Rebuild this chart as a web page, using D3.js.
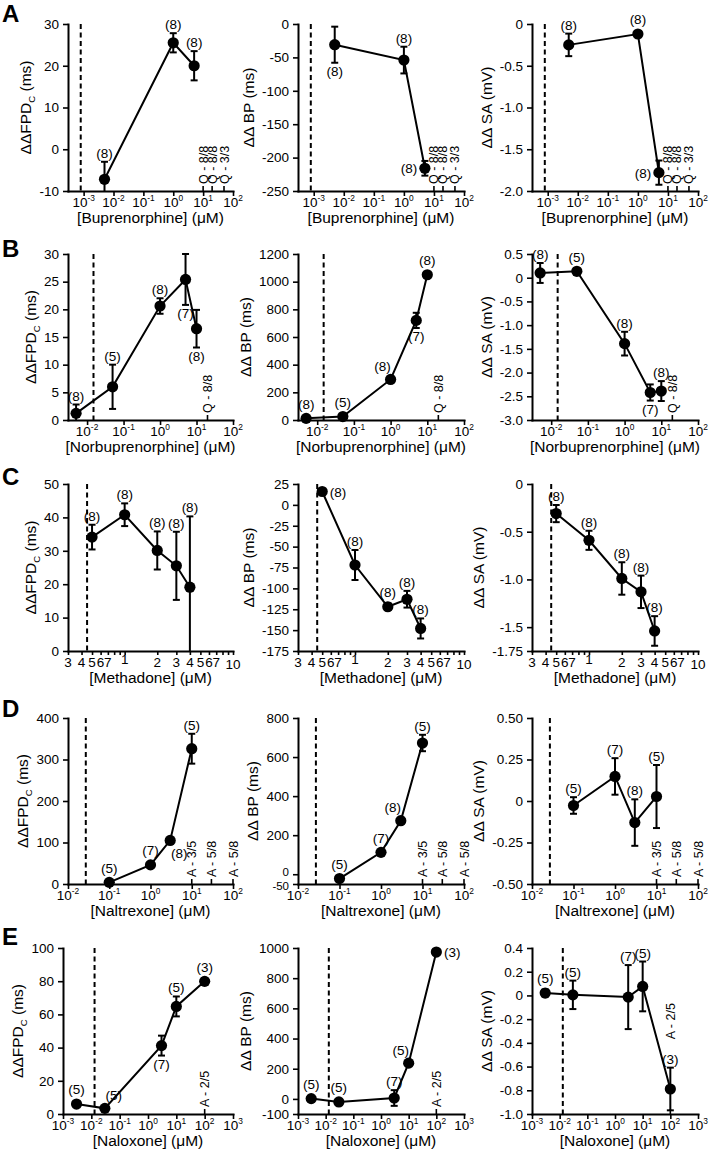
<!DOCTYPE html>
<html><head><meta charset="utf-8">
<script src="https://cdn.jsdelivr.net/npm/d3@7"></script>
<style>body{margin:0;background:#fff}svg{display:block}</style>
</head><body>
<svg id="c" width="714" height="1155"></svg>
<script>
// ---------------- DATA ----------------
const rowLetters = ['A','B','C','D','E'];
const drugs = ['Buprenorphine','Norbuprenorphine','Methadone','Naltrexone','Naloxone'];

// Row A: Buprenorphine
const concA = [0.005, 1, 5];
const fpdA = [-7.2, 25.5, 20.0], fpdErrA = [4.2, 2.3, 3.5], fpdNA = [8, 8, 8];
const bpA = [-31, -54, -216], bpErrA = [27, 20, 11], bpNA = [8, 8, 8];
const saA = [-0.25, -0.12, -1.78], saErrA = [0.135, 0.03, 0.145], saNA = [8, 8, 8];
const annotXA = [10, 20, 50], annotTextA = ['Q - 8/8', 'Q - 8/8', 'Q - 3/3'];
const dashA = 0.0008;

// Row B: Norbuprenorphine
const concB = [0.005, 0.05, 1, 5, 10];
const fpdB = [1.2, 6.0, 20.6, 25.4, 16.5], fpdErrB = [1.6, 4.0, 1.4, 4.6, 3.4], fpdNB = [8, 5, 8, 7, 8];
const bpB = [12, 25, 293, 720, 1050], bpErrB = [10, 15, 20, 55, 20], bpNB = [8, 5, 8, 7, 8];
const saB = [0.10, 0.135, -1.39, -2.42, -2.39], saErrB = [0.21, 0.03, 0.25, 0.17, 0.21], saNB = [8, 5, 8, 7, 8];
const annotXB = [20], annotTextB = ['Q - 8/8'];
const dashB = 0.015;

// Row C: Methadone
const concC = [0.5, 1, 2, 3, 4];
const fpdC = [34.1, 40.8, 30.1, 25.5, 19.1], fpdErrC = [3.7, 3.4, 5.7, 10.2, 21.2], fpdNC = [8, 8, 8, 8, 8];
const bpC = [16, -72, -122, -113, -148], bpErrC = [3, 18, 4, 10, 12], bpNC = [8, 8, 8, 8, 8];
const saC = [-0.31, -0.59, -0.99, -1.13, -1.54], saErrC = [0.09, 0.10, 0.17, 0.17, 0.155], saNC = [8, 8, 8, 8, 8];
const annotXC = [], annotTextC = [];
const dashC = 0.45;

// Row D: Naltrexone
const concD = [0.1, 1, 3, 10];
const fpdD = [4, 46, 105, 326], fpdErrD = [3, 5, 6, 36], fpdND = [5, 7, 8, 5];
const bpD = [-22, 112, 274, 672], bpErrD = [8, 10, 12, 42], bpND = [5, 7, 8, 5];
const saD = [-0.027, 0.148, -0.13, 0.027], saErrD = [0.05, 0.11, 0.14, 0.19], saND = [5, 7, 8, 5];
const annotXD = [10, 30, 100], annotTextD = ['A - 3/5', 'A - 5/8', 'A - 5/8'];
const dashD = 0.027;

// Row E: Naloxone
const concE = [0.003, 0.03, 3, 10, 100];
const fpdE = [6.0, 3.4, 41.2, 64.8, 79.9], fpdErrE = [1, 1, 6, 6, 2], fpdNE = [5, 5, 7, 5, 3];
const bpE = [2, -20, 6, 237, 973], bpErrE = [5, 5, 52, 10, 10], bpNE = [5, 5, 7, 5, 3];
const saE = [0.02, 0.005, -0.014, 0.076, -0.789], saErrE = [0.03, 0.12, 0.27, 0.21, 0.18], saNE = [5, 5, 7, 5, 3];
const annotXE = [100], annotTextE = ['A - 2/5'];
const dashE = 0.013;

// x ticks
const xDomainA = [0.0003, 100], xTicksA = [1e-3, 1e-2, 1e-1, 1, 10, 100];
const xDomainB = [0.003, 100], xTicksB = [1e-2, 1e-1, 1, 10, 100];
const xDomainC = [0.3, 10], xTicksC = [0.3, 0.4, 0.5, 0.6, 0.7, 0.8, 0.9, 1, 2, 3, 4, 5, 6, 7, 8, 9, 10];
const xTickLabelsC = ['3', '4', '5', '6', '7', '', '', '1', '2', '3', '4', '5', '6', '7', '', '', '10'];
const xDomainD = [0.01, 100], xTicksD = [1e-2, 1e-1, 1, 10, 100];
const xDomainE = [0.001, 1000], xTicksE = [1e-3, 1e-2, 1e-1, 1, 10, 100, 1000];

// y ticks
const yFpdA = [-10, 30], yFpdTicksA = [-10, 0, 10, 20, 30], yFpdLabA = ['-10', '0', '10', '20', '30'];
const yBpA = [-250, 0], yBpTicksA = [-250, -200, -150, -100, -50, 0], yBpLabA = ['-250', '-200', '-150', '-100', '-50', '0'];
const ySaA = [-2, 0], ySaTicksA = [-2, -1.5, -1, -0.5, 0], ySaLabA = ['-2.0', '-1.5', '-1.0', '-0.5', '0'];
const yFpdB = [0, 30], yFpdTicksB = [0, 5, 10, 15, 20, 25, 30], yFpdLabB = ['0', '5', '10', '15', '20', '25', '30'];
const yBpB = [0, 1200], yBpTicksB = [0, 200, 400, 600, 800, 1000, 1200], yBpLabB = ['0', '200', '400', '600', '800', '1000', '1200'];
const ySaB = [-3, 0.5], ySaTicksB = [-3, -2.5, -2, -1.5, -1, -0.5, 0, 0.5], ySaLabB = ['-3.0', '-2.5', '-2.0', '-1.5', '-1.0', '-0.5', '0', '0.5'];
const yFpdC = [0, 50], yFpdTicksC = [0, 10, 20, 30, 40, 50], yFpdLabC = ['0', '10', '20', '30', '40', '50'];
const yBpC = [-175, 25], yBpTicksC = [-175, -150, -125, -100, -75, -50, -25, 0, 25], yBpLabC = ['-175', '-150', '-125', '-100', '-75', '-50', '-25', '0', '25'];
const ySaC = [-1.75, 0], ySaTicksC = [-1.75, -1.5, -1, -0.5, 0], ySaLabC = ['-1.75', '-1.5', '-1.0', '-0.5', '0'];
const yFpdD = [0, 400], yFpdTicksD = [0, 100, 200, 300, 400], yFpdLabD = ['0', '100', '200', '300', '400'];
const yBpD = [-50, 800], yBpTicksD = [-50, 0, 200, 400, 600, 800], yBpLabD = ['-50', '0', '200', '400', '600', '800'];
const ySaD = [-0.5, 0.5], ySaTicksD = [-0.5, -0.25, 0, 0.25, 0.5], ySaLabD = ['-0.50', '-0.25', '0', '0.25', '0.50'];
const yFpdE = [0, 100], yFpdTicksE = [0, 20, 40, 60, 80, 100], yFpdLabE = ['0', '20', '40', '60', '80', '100'];
const yBpE = [-100, 1000], yBpTicksE = [-100, 0, 200, 400, 600, 800, 1000], yBpLabE = ['-100', '0', '200', '400', '600', '800', '1000'];
const ySaE = [-1, 0.4], ySaTicksE = [-1, -0.8, -0.6, -0.4, -0.2, 0, 0.2, 0.4], ySaLabE = ['-1.0', '-0.8', '-0.6', '-0.4', '-0.2', '0', '0.2', '0.4'];

// ---------------- LAYOUT (not data) ----------------
const colX0 = [68, 298, 532], colX1 = [233, 464, 698];
const rowY0 = [24, 254, 484, 718, 948], rowY1 = [191, 420, 651, 884, 1114];
const FONT = "'Liberation Sans', Arial, Helvetica, sans-serif";
const TICKF = 13.5, TITLEF = 15.5, NF = 13.5, ANF = 12.5;

// label placement per panel (a=above, b=below, l=left, r=right, al/ar/bl/br)
const lp = {
  A: [['a','a','a'], ['b','a','l'], ['a','a','l']],
  B: [['a','a','a','b','b'], ['a','a','al','b','a'], ['a','a','a','b','a']],
  C: [['a','a','a','a','a'], ['r','a','a','a','a'], ['a','a','a','a','a']],
  D: [['a','a','br','a'], ['a','a','al','a'], ['a','a','a','a']],
  E: [['a','ar','b','a','a'], ['a','a','a','al','r'], ['a','a','a','a','a']]
};

const rowsData = [
  {conc: concA, ser: [[fpdA,fpdErrA,fpdNA,yFpdA,yFpdTicksA,yFpdLabA],[bpA,bpErrA,bpNA,yBpA,yBpTicksA,yBpLabA],[saA,saErrA,saNA,ySaA,ySaTicksA,ySaLabA]],
   ax: annotXA, at: annotTextA, dash: dashA, xd: xDomainA, xt: xTicksA, xl: null},
  {conc: concB, ser: [[fpdB,fpdErrB,fpdNB,yFpdB,yFpdTicksB,yFpdLabB],[bpB,bpErrB,bpNB,yBpB,yBpTicksB,yBpLabB],[saB,saErrB,saNB,ySaB,ySaTicksB,ySaLabB]],
   ax: annotXB, at: annotTextB, dash: dashB, xd: xDomainB, xt: xTicksB, xl: null},
  {conc: concC, ser: [[fpdC,fpdErrC,fpdNC,yFpdC,yFpdTicksC,yFpdLabC],[bpC,bpErrC,bpNC,yBpC,yBpTicksC,yBpLabC],[saC,saErrC,saNC,ySaC,ySaTicksC,ySaLabC]],
   ax: annotXC, at: annotTextC, dash: dashC, xd: xDomainC, xt: xTicksC, xl: xTickLabelsC},
  {conc: concD, ser: [[fpdD,fpdErrD,fpdND,yFpdD,yFpdTicksD,yFpdLabD],[bpD,bpErrD,bpND,yBpD,yBpTicksD,yBpLabD],[saD,saErrD,saND,ySaD,ySaTicksD,ySaLabD]],
   ax: annotXD, at: annotTextD, dash: dashD, xd: xDomainD, xt: xTicksD, xl: null},
  {conc: concE, ser: [[fpdE,fpdErrE,fpdNE,yFpdE,yFpdTicksE,yFpdLabE],[bpE,bpErrE,bpNE,yBpE,yBpTicksE,yBpLabE],[saE,saErrE,saNE,ySaE,ySaTicksE,ySaLabE]],
   ax: annotXE, at: annotTextE, dash: dashE, xd: xDomainE, xt: xTicksE, xl: null}
];
// special annotation baseline for E-right (text starts at this y value)
const annotBaseOverride = {'4-2': -0.37};

const svg = d3.select('#c');
svg.append('rect').attr('width', 714).attr('height', 1155).attr('fill', '#fff');

function yTitle(g, col, cx, cy) {
  const t = g.append('text').attr('transform', `translate(${cx},${cy}) rotate(-90)`)
    .attr('text-anchor', 'middle').attr('font-family', FONT).attr('font-size', TITLEF).attr('fill', '#000');
  if (col === 0) {
    t.append('tspan').text('\u0394\u0394FPD');
    t.append('tspan').attr('font-size', TITLEF * 0.62).attr('dy', 4).text('C');
    t.append('tspan').attr('dy', -4).text(' (ms)');
  } else if (col === 1) {
    t.text('\u0394\u0394 BP (ms)');
  } else {
    t.text('\u0394\u0394 SA (mV)');
  }
}

function drawPanel(ri, ci) {
  const R = rowsData[ri];
  const [vals, errs, ns, yd, yt, yl] = R.ser[ci];
  let x0 = colX0[ci], x1 = colX1[ci];
  if (ri === 4 && ci === 0) x0 = 63;
  const y0 = rowY0[ri], y1 = rowY1[ri];
  const g = svg.append('g');
  const x = d3.scaleLog().domain(R.xd).range([x0, x1]);
  const y = d3.scaleLinear().domain(yd).range([y1, y0]);

  // y axis
  const ya = g.append('g').attr('transform', `translate(${x0},0)`)
    .call(d3.axisLeft(y).tickValues(yt).tickSize(5).tickSizeOuter(0).tickPadding(4).tickFormat((d, i) => yl[i]));
  ya.selectAll('text').attr('font-family', FONT).attr('font-size', TICKF).attr('fill', '#000');
  // spread crowded adjacent tick labels (e.g. "0" and "-50")
  const tickTexts = ya.selectAll('.tick text').nodes();
  for (let i = 0; i + 1 < yt.length; i++) {
    const gap = Math.abs(y(yt[i]) - y(yt[i + 1]));
    if (gap < 14) {
      const push = (14 - gap) / 2;
      d3.select(tickTexts[i]).attr('font-size', 11.5).attr('y', push);
      d3.select(tickTexts[i + 1]).attr('font-size', 11.5).attr('y', -push);
    }
  }
  // x axis
  const xa = g.append('g').attr('transform', `translate(0,${y1})`)
    .call(d3.axisBottom(x).tickValues(R.xt).tickSize(R.xl ? 4 : 5).tickSizeOuter(0).tickFormat(''));
  [ya, xa].forEach(a => {
    a.select('.domain').attr('stroke', '#000').attr('stroke-width', 2).attr('stroke-linecap', 'square');
    a.selectAll('.tick line').attr('stroke', '#000').attr('stroke-width', 1.6);
  });
  // x tick labels
  R.xt.forEach((v, i) => {
    const t = g.append('text').attr('x', x(v)).attr('y', y1 + 15.5).attr('text-anchor', 'middle')
      .attr('font-family', FONT).attr('font-size', TICKF).attr('fill', '#000');
    if (R.xl) {
      const lab = R.xl[i];
      t.attr('y', y1 + 15.5 + (lab === '1' ? -3 : lab === '10' ? 2 : 0)).text(lab);
    } else {
      const e = Math.round(Math.log10(v));
      t.append('tspan').text('10');
      t.append('tspan').attr('font-size', TICKF * 0.62).attr('dy', -6).text(String(e));
    }
  });
  // x title
  g.append('text').attr('x', (x0 + x1) / 2).attr('y', y1 + 32).attr('text-anchor', 'middle')
    .attr('font-family', FONT).attr('font-size', TITLEF).attr('fill', '#000')
    .text('[' + drugs[ri] + '] (\u03bcM)');
  // y title: placed left of tick labels
  let minX = x0;
  ya.selectAll('text').each(function () { const b = this.getBBox(); minX = Math.min(minX, b.x + x0); });
  yTitle(g, ci, minX - 8, (y0 + y1) / 2);

  // dashed line
  g.append('line').attr('x1', x(R.dash)).attr('x2', x(R.dash)).attr('y1', y0).attr('y2', y1)
    .attr('stroke', '#000').attr('stroke-width', 2).attr('stroke-dasharray', '5,3.5');

  // annotations
  R.ax.forEach((v, i) => {
    const px = x(v);
    g.append('line').attr('x1', px).attr('x2', px).attr('y1', y1).attr('y2', y1 - 5)
      .attr('stroke', '#000').attr('stroke-width', 1.6);
    const key = ri + '-' + ci;
    const by = annotBaseOverride[key] !== undefined ? y(annotBaseOverride[key]) : y1 - 7;
    g.append('text').attr('transform', `translate(${px},${by}) rotate(-90)`).attr('dy', '0.36em')
      .attr('font-family', FONT).attr('font-size', ANF).attr('fill', '#000').text(R.at[i]);
  });

  const pts = R.conc.map((c, i) => ({c, v: vals[i], e: errs[i], n: ns[i]}));
  // error bars
  const clampY = v => y(Math.max(yd[0], Math.min(yd[1], v)));
  pts.forEach(p => {
    const px = x(p.c), t = clampY(p.v + p.e), b = clampY(p.v - p.e);
    g.append('line').attr('x1', px).attr('x2', px).attr('y1', t).attr('y2', b).attr('stroke', '#000').attr('stroke-width', 2);
    [[t, p.v + p.e <= yd[1]], [b, p.v - p.e >= yd[0]]].forEach(([yy, show]) => {
      if (show) g.append('line').attr('x1', px - 3.5).attr('x2', px + 3.5).attr('y1', yy).attr('y2', yy).attr('stroke', '#000').attr('stroke-width', 2);
    });
  });
  // line
  g.append('path').datum(pts).attr('fill', 'none').attr('stroke', '#000').attr('stroke-width', 2)
    .attr('d', d3.line().x(d => x(d.c)).y(d => y(d.v)));
  // dots
  g.selectAll('circle.pt').data(pts).enter().append('circle')
    .attr('cx', d => x(d.c)).attr('cy', d => y(d.v)).attr('r', 5.6).attr('fill', '#000');
  // n labels
  const r = 5.6;
  const pos = lp[rowLetters[ri]][ci];
  pts.forEach((p, i) => {
    const px = x(p.c), py = y(p.v);
    const top = Math.min(clampY(p.v + p.e), py - r), bot = Math.max(clampY(p.v - p.e), py + r);
    const t = g.append('text').attr('font-family', FONT).attr('font-size', NF).attr('fill', '#000').text('(' + p.n + ')');
    const k = pos[i];
    if (k === 'a') t.attr('x', px).attr('y', top - 4).attr('text-anchor', 'middle');
    else if (k === 'b') t.attr('x', px).attr('y', bot + 13).attr('text-anchor', 'middle');
    else if (k === 'l') t.attr('x', px - r - 2).attr('y', py + 5).attr('text-anchor', 'end');
    else if (k === 'r') t.attr('x', px + r + 2).attr('y', py + 5).attr('text-anchor', 'start');
    else if (k === 'al') t.attr('x', px - 8).attr('y', top - 3).attr('text-anchor', 'middle');
    else if (k === 'ar') t.attr('x', px + 9).attr('y', top - 3).attr('text-anchor', 'middle');
    else if (k === 'br') t.attr('x', px + 9).attr('y', bot + 12).attr('text-anchor', 'middle');
  });
}

const letterY = [22, 257, 485, 717, 945];
for (let ri = 0; ri < 5; ri++) {
  for (let ci = 0; ci < 3; ci++) drawPanel(ri, ci);
  svg.append('text').attr('x', 2).attr('y', letterY[ri]).attr('font-family', FONT)
    .attr('font-weight', 'bold').attr('font-size', 24).attr('fill', '#000').text(rowLetters[ri]);
}
</script>
</body></html>
